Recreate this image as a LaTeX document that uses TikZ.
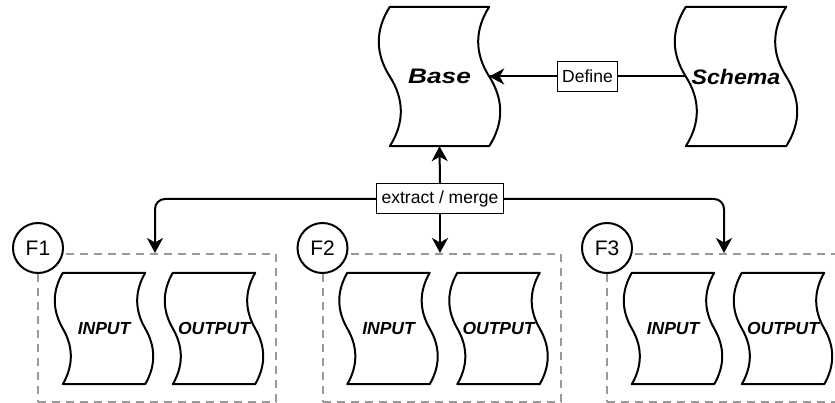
\documentclass[tikz,border=0pt]{standalone}
\usepackage{fontspec}
\usepackage{graphicx}
\setmainfont{Liberation Sans}
\usetikzlibrary{arrows.meta,calc}

% Outline of a tape-like document: straight top and bottom,
% both sides waving as one S-curve.
% #1 node name, #2 horizontal control offset, #3 vertical control offset
\newcommand\tapeoutline[3]{%
  \draw[tapeline] (#1.north west)
    .. controls +(-#2,#3) and +(-#2,-#3) .. (#1.west)
    .. controls +(#2,#3) and +(#2,-#3) .. (#1.south west)
    -- (#1.south east)
    .. controls +(#2,-#3) and +(#2,#3) .. (#1.east)
    .. controls +(-#2,-#3) and +(-#2,#3) .. (#1.north east)
    -- cycle;}

% wide bold italic title text
\newcommand\widetitle[2]{\scalebox{#1}[1]{#2}}

\tikzset{
  tapeline/.style={line width=2pt, line join=round},
  bigtape/.style={inner sep=0pt, minimum width=99pt, minimum height=139pt,
    font=\fontsize{21}{24}\selectfont\bfseries\itshape},
  smalltape/.style={inner sep=0pt, minimum width=82pt, minimum height=111pt,
    font=\fontsize{17.5}{20}\selectfont\bfseries\itshape},
  conn/.style={line width=2pt, -{Stealth[length=15pt,width=16pt,inset=4.5pt]}},
  plainconn/.style={line width=2pt},
  lbl/.style={draw, fill=white, line width=1pt, inner xsep=5pt, inner ysep=0pt,
    minimum height=30pt, font=\fontsize{17.5}{20}\selectfont},
  groupbox/.style={draw=groupgray, line width=2pt, dash pattern=on 8pt off 6pt,
    minimum width=238pt, minimum height=148pt, inner sep=0pt},
  badge/.style={circle, draw, fill=white, line width=2pt, minimum size=50pt,
    inner sep=0pt, font=\fontsize{21}{24}\selectfont}
}
\definecolor{groupgray}{HTML}{999999}

\begin{document}
\begin{tikzpicture}[x=1pt,y=-1pt]
  \useasboundingbox (0,0) rectangle (835,403);
  \clip (0,0) rectangle (835,403);

  % top row: Base and Schema
  \node[bigtape] (base) at (439.5,76.5) {\widetitle{1.25}{Base}};
  \tapeoutline{base}{14.7}{23.2}
  \node[bigtape, minimum width=100pt] (schema) at (736,76.5) {\widetitle{1.1}{Schema}};
  \tapeoutline{schema}{14.7}{23.2}

  % the three F groups
  \foreach \i/\gx in {1/38, 2/322.5, 3/607} {
    \node[groupbox] (g\i) at ({\gx+119},328) {};
    \node[smalltape] (in\i) at ({\gx+66},328.5) {INPUT};
    \tapeoutline{in\i}{10.7}{18.5}
    \node[smalltape] (out\i) at ({\gx+176},328.5) {OUTPUT};
    \tapeoutline{out\i}{10.7}{18.5}
    \node[badge] (c\i) at (\gx,248) {F\i};
  }

  % Define connector
  \draw[plainconn] (schema.west) -- node[lbl] (def) {Define} (base.east);
  \draw[conn] (def.west) -- (base.east);

  % extract / merge connectors
  \node[lbl] (em) at (440,199) {extract / merge};
  \draw[conn] (em.north) -- (base.south);
  \draw[conn, rounded corners=10pt] (em.west) -| ($(g1.north)+(-2,0)$);
  \draw[conn] (em.south) -- (em.south |- g2.north);
  \draw[conn, rounded corners=10pt] (em.east) -| ($(g3.north)+(-2,0)$);
\end{tikzpicture}
\end{document}
